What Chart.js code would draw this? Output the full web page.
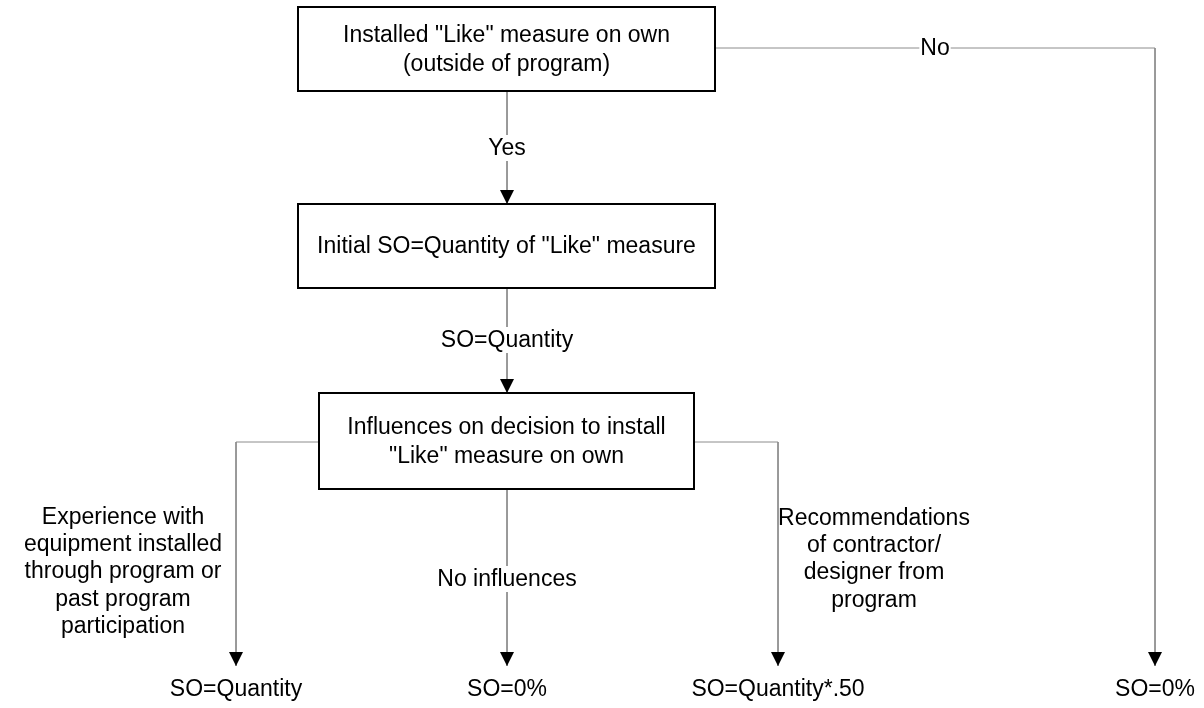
<!DOCTYPE html>
<html>
<head>
<meta charset="utf-8">
<script src="https://cdn.jsdelivr.net/npm/chart.js@4/dist/chart.umd.min.js"></script>
<style>
html,body{margin:0;padding:0;background:#fff;}
canvas{display:block;}
</style>
</head>
<body>
<canvas id="c" width="1204" height="708"></canvas>
<script>
// Boxes (decision / process nodes)
const boxTexts = [
  ['Installed "Like" measure on own', '(outside of program)'],
  ['Initial SO=Quantity of "Like" measure'],
  ['Influences on decision to install', '"Like" measure on own']
];
const boxX = [[298, 715], [298, 715], [319, 694]];
const boxY = [[7, 91], [204, 288], [393, 489]];

// Connectors (polyline vertices); last point gets an arrowhead
const connectors = [
  [[507, 91], [507, 204]],
  [[507, 288], [507, 393]],
  [[715, 48], [1155, 48], [1155, 666]],
  [[319, 442], [236, 442], [236, 666]],
  [[507, 489], [507, 666]],
  [[694, 442], [778, 442], [778, 666]]
];

// Connector labels
const edgeLabels = [
  { text: ['Yes'], x: 507, y: 148, bg: true },
  { text: ['No'], x: 935, y: 48, bg: true },
  { text: ['SO=Quantity'], x: 507, y: 340, bg: true },
  { text: ['No influences'], x: 507, y: 579, bg: true },
  { text: ['Experience with', 'equipment installed', 'through program or', 'past program', 'participation'], x: 123, y: 571, bg: false },
  { text: ['Recommendations', 'of contractor/', 'designer from', 'program'], x: 874, y: 558.5, bg: false }
];

// Outcomes
const outcomeTexts = ['SO=Quantity', 'SO=0%', 'SO=Quantity*.50', 'SO=0%'];
const outcomeX = [236, 507, 778, 1155];
const outcomeY = [689, 689, 689, 689];

const FONT = '23px "Liberation Sans", Arial, sans-serif';
const LINE_H = 27.3;
const BOX_LINE_H = 29.5;

const datasets = connectors.map(pts => ({
  type: 'line',
  data: pts.map(p => ({ x: p[0], y: p[1] })),
  borderColor: '#8c8c8c',
  borderWidth: 1,
  pointRadius: 0,
  fill: false,
  tension: 0
}));

const flowPlugin = {
  id: 'flow',
  afterDatasetsDraw(chart) {
    const ctx = chart.ctx;
    const sx = chart.scales.x, sy = chart.scales.y;
    const X = v => sx.getPixelForValue(v);
    const Y = v => sy.getPixelForValue(v);
    ctx.save();
    ctx.fillStyle = '#000';
    connectors.forEach(pts => {
      const tip = pts[pts.length - 1];
      const tx = X(tip[0]), ty = Y(tip[1]);
      ctx.beginPath();
      ctx.moveTo(tx, ty);
      ctx.lineTo(tx - 7, ty - 14);
      ctx.lineTo(tx + 7, ty - 14);
      ctx.closePath();
      ctx.fill();
    });
    ctx.font = FONT;
    ctx.textAlign = 'center';
    ctx.textBaseline = 'middle';
    edgeLabels.forEach(l => {
      const n = l.text.length;
      l.text.forEach((t, i) => {
        const cx = X(l.x), cy = Y(l.y) + (i - (n - 1) / 2) * LINE_H;
        if (l.bg) {
          const w = ctx.measureText(t).width;
          ctx.fillStyle = '#fff';
          ctx.fillRect(cx - w / 2 - 1, cy - 13, w + 2, 26);
        }
        ctx.fillStyle = '#000';
        ctx.fillText(t, cx, cy + 1);
      });
    });
    boxTexts.forEach((lines, b) => {
      const x0 = X(boxX[b][0]), x1 = X(boxX[b][1]);
      const y0 = Y(boxY[b][0]), y1 = Y(boxY[b][1]);
      ctx.fillStyle = '#fff';
      ctx.fillRect(x0, y0, x1 - x0, y1 - y0);
      ctx.strokeStyle = '#000';
      ctx.lineWidth = 2;
      ctx.strokeRect(x0, y0, x1 - x0, y1 - y0);
      const cx = (x0 + x1) / 2, cy = (y0 + y1) / 2;
      const n = lines.length;
      ctx.fillStyle = '#000';
      lines.forEach((t, i) => {
        ctx.fillText(t, cx, cy + (i - (n - 1) / 2) * BOX_LINE_H + 1);
      });
    });
    outcomeTexts.forEach((t, i) => {
      ctx.fillText(t, X(outcomeX[i]), Y(outcomeY[i]) + 1);
    });
    ctx.restore();
  }
};

new Chart(document.getElementById('c'), {
  type: 'scatter',
  data: { datasets },
  options: {
    responsive: false,
    animation: false,
    devicePixelRatio: 1,
    layout: { padding: 0 },
    plugins: { legend: { display: false }, tooltip: { enabled: false } },
    events: [],
    scales: {
      x: { type: 'linear', min: 0, max: 1204, display: false },
      y: { type: 'linear', min: 0, max: 708, reverse: true, display: false }
    }
  },
  plugins: [flowPlugin]
});
</script>
</body>
</html>
